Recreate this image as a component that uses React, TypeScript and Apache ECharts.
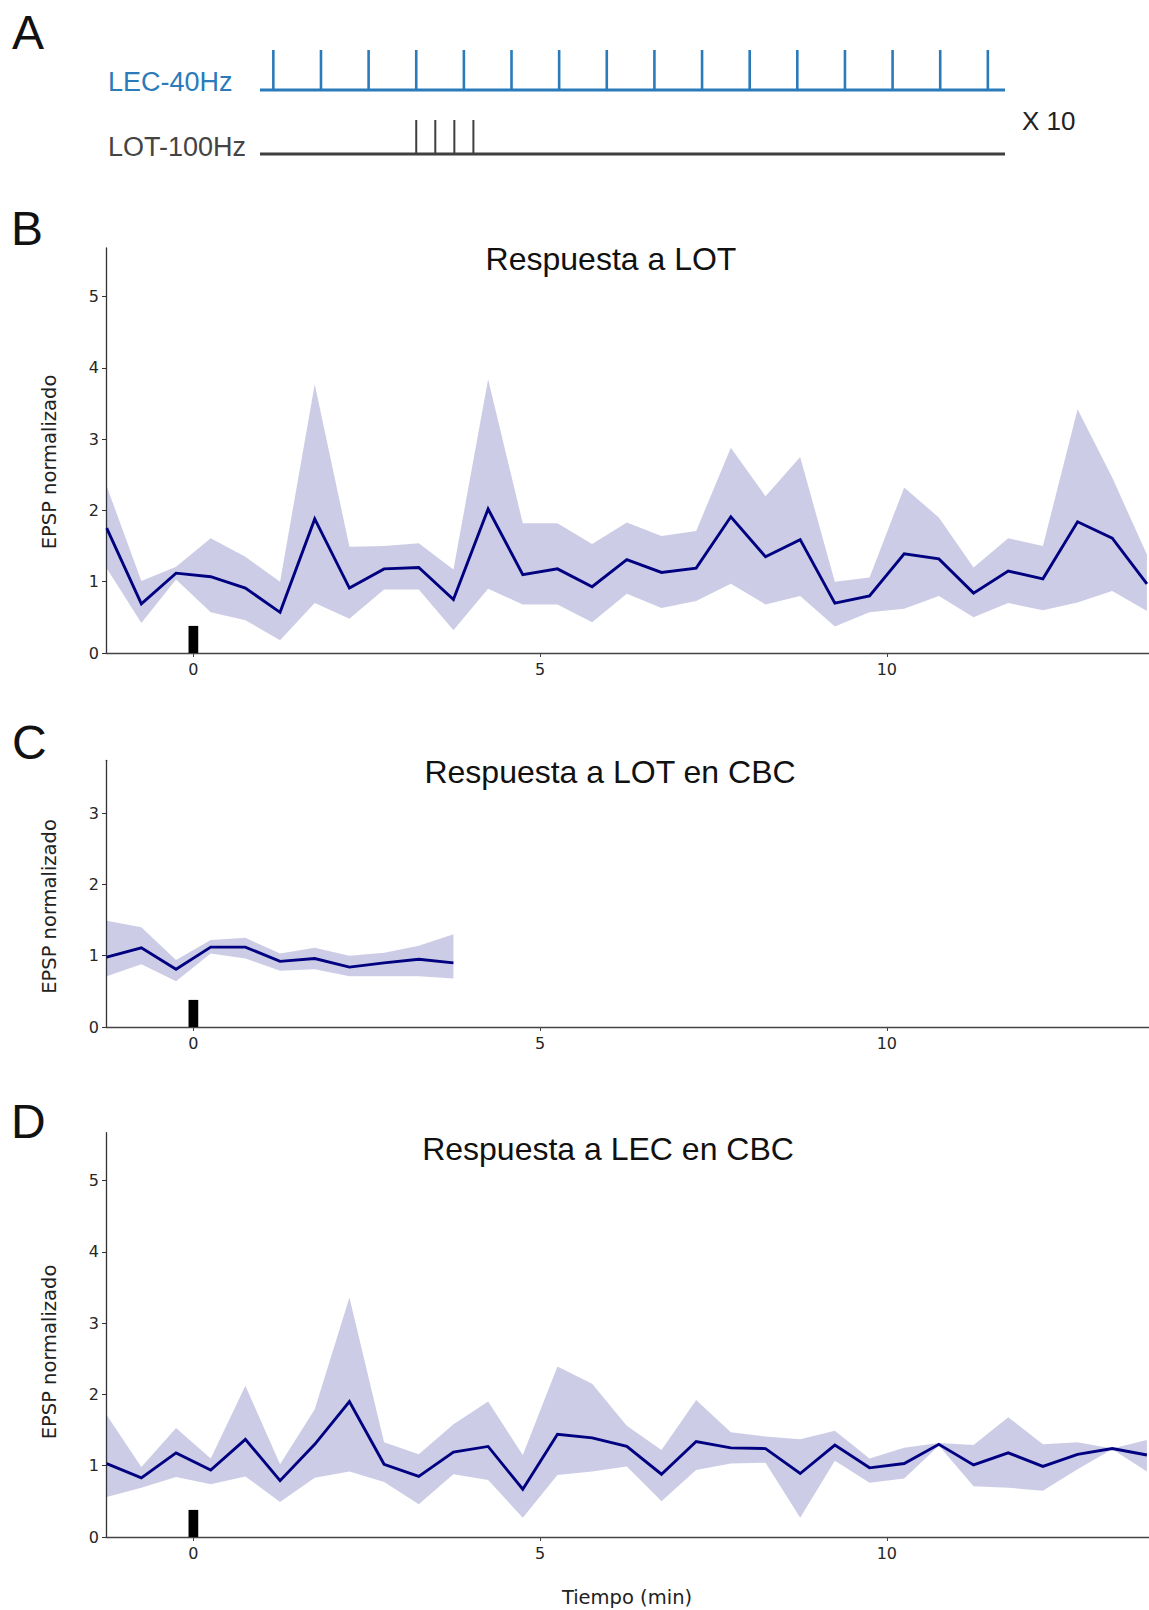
import React, { useEffect, useRef } from "react";
import * as echarts from "echarts";

const W = 1149;
const H = 1610;

// ---- Protocol (panel A), times in ms ----
const lecPulses = [0, 25, 50, 75, 100, 125, 150, 175, 200, 225, 250, 275, 300, 325, 350, 375];
const lotPulses = [75, 85, 95, 105];
const traceStart = -7;
const traceEnd = 384;

// ---- Time points (min) ----
const tiempo = [
  -1.25, -0.75, -0.25, 0.25, 0.75, 1.25, 1.75, 2.25, 2.75, 3.25, 3.75,
  4.25, 4.75, 5.25, 5.75, 6.25, 6.75, 7.25, 7.75, 8.25, 8.75,
  9.25, 9.75, 10.25, 10.75, 11.25, 11.75, 12.25, 12.75, 13.25, 13.75,
];
const tiempoCBC = [-1.25, -0.75, -0.25, 0.25, 0.75, 1.25, 1.75, 2.25, 2.75, 3.25, 3.75];

// ---- B: Respuesta a LOT ----
const lotMedia = [
  1.75, 0.69, 1.12, 1.07, 0.91, 0.57, 1.88, 0.91, 1.18, 1.2, 0.75,
  2.02, 1.1, 1.18, 0.93, 1.31, 1.13, 1.19, 1.91, 1.35, 1.59,
  0.7, 0.8, 1.39, 1.32, 0.84, 1.15, 1.04, 1.84, 1.61, 0.97,
];
const lotSup = [
  2.34, 1.01, 1.21, 1.61, 1.35, 1.0, 3.77, 1.49, 1.5, 1.54, 1.17,
  3.84, 1.82, 1.82, 1.53, 1.83, 1.64, 1.71, 2.88, 2.2, 2.75,
  1.0, 1.06, 2.32, 1.9, 1.2, 1.61, 1.5, 3.42, 2.46, 1.38,
];
const lotInf = [
  1.19, 0.42, 1.03, 0.57, 0.46, 0.18, 0.7, 0.48, 0.89, 0.89, 0.32,
  0.9, 0.68, 0.68, 0.43, 0.83, 0.63, 0.73, 0.97, 0.68, 0.8,
  0.37, 0.57, 0.62, 0.8, 0.5, 0.7, 0.6, 0.71, 0.87, 0.59,
];

// ---- C: Respuesta a LOT en CBC ----
const lotCbcMedia = [0.98, 1.11, 0.81, 1.12, 1.12, 0.92, 0.96, 0.84, 0.9, 0.95, 0.9];
const lotCbcSup = [1.49, 1.4, 0.94, 1.22, 1.25, 1.03, 1.11, 1.0, 1.04, 1.14, 1.3];
const lotCbcInf = [0.71, 0.88, 0.64, 1.03, 0.96, 0.79, 0.81, 0.71, 0.71, 0.71, 0.68];

// ---- D: Respuesta a LEC en CBC ----
const lecCbcMedia = [
  1.03, 0.83, 1.18, 0.94, 1.37, 0.79, 1.3, 1.9, 1.02, 0.85, 1.19,
  1.27, 0.67, 1.44, 1.39, 1.27, 0.88, 1.34, 1.25, 1.24, 0.89,
  1.29, 0.97, 1.03, 1.3, 1.01, 1.18, 0.99, 1.16, 1.24, 1.15,
];
const lecCbcSup = [
  1.71, 0.98, 1.53, 1.1, 2.12, 1.02, 1.79, 3.36, 1.33, 1.16, 1.58,
  1.9, 1.15, 2.39, 2.15, 1.56, 1.22, 1.92, 1.47, 1.41, 1.37,
  1.49, 1.1, 1.25, 1.32, 1.29, 1.68, 1.3, 1.33, 1.24, 1.36,
];
const lecCbcInf = [
  0.56, 0.69, 0.84, 0.74, 0.85, 0.49, 0.83, 0.92, 0.77, 0.46, 0.88,
  0.8, 0.27, 0.87, 0.92, 0.99, 0.5, 0.94, 1.03, 1.04, 0.27,
  1.07, 0.76, 0.82, 1.28, 0.71, 0.69, 0.65, 0.95, 1.23, 0.92,
];

// Tetanus marker at t = 0
const estimuloT = [0];
const estimuloAltura = 0.38;
const estimuloAncho = 0.14;

// Axis ticks
const xTicks = [0, 5, 10];
const yTicksAlto = [0, 1, 2, 3, 4, 5];
const yTicksBajo = [0, 1, 2, 3];

const NAVY = "#000080";
const BANDA = "rgba(0,0,128,0.2)";
const AZUL = "#2b7bba";
const GRIS = "#3f3f3f";

const panels = [
  { t: tiempo, media: lotMedia, sup: lotSup, inf: lotInf, top: 248, height: 405, yMax: 5.68, yTicks: yTicksAlto },
  { t: tiempoCBC, media: lotCbcMedia, sup: lotCbcSup, inf: lotCbcInf, top: 760.3, height: 266.7, yMax: 3.74, yTicks: yTicksBajo },
  { t: tiempo, media: lecCbcMedia, sup: lecCbcSup, inf: lecCbcInf, top: 1132.7, height: 404.3, yMax: 5.67, yTicks: yTicksAlto },
];

function buildOption() {
  const grid: any[] = [
    { left: 260, top: 50, width: 745, height: 40 },
    { left: 260, top: 120, width: 745, height: 34 },
  ];
  const xAxis: any[] = [
    { gridIndex: 0, type: "value", min: traceStart, max: traceEnd, show: false },
    { gridIndex: 1, type: "value", min: traceStart, max: traceEnd, show: false },
  ];
  const yAxis: any[] = [
    { gridIndex: 0, type: "value", min: 0, max: 1, show: false },
    { gridIndex: 1, type: "value", min: 0, max: 1, show: false },
  ];
  const series: any[] = [];

  const pulseSeries = (idx: number, pulses: number[], color: string, w: number) => ({
    type: "custom",
    xAxisIndex: idx,
    yAxisIndex: idx,
    clip: false,
    silent: true,
    data: pulses.map((p) => [p, 1]),
    renderItem: (_p: any, api: any) => {
      const a = api.coord([api.value(0), 0]);
      const b = api.coord([api.value(0), api.value(1)]);
      return {
        type: "line",
        shape: { x1: a[0], y1: a[1], x2: b[0], y2: b[1] },
        style: { stroke: color, lineWidth: w },
      };
    },
  });
  const baseline = (idx: number, color: string) => ({
    type: "line",
    xAxisIndex: idx,
    yAxisIndex: idx,
    clip: false,
    silent: true,
    symbol: "none",
    data: [
      [traceStart, 0],
      [traceEnd, 0],
    ],
    lineStyle: { color, width: 3 },
  });
  series.push(baseline(0, AZUL), pulseSeries(0, lecPulses, AZUL, 2.6));
  series.push(baseline(1, GRIS), pulseSeries(1, lotPulses, GRIS, 2));

  panels.forEach((p, i) => {
    const gi = i + 2;
    grid.push({ left: 106, top: p.top, width: W - 106, height: p.height });
    xAxis.push({
      gridIndex: gi,
      type: "value",
      min: -1.26,
      max: 13.78,
      splitLine: { show: false },
      axisLine: { show: true, onZero: false, lineStyle: { color: "#444", width: 1.3 } },
      axisTick: { show: true, length: 4, customValues: xTicks, lineStyle: { color: "#444", width: 1 } },
      axisLabel: {
        customValues: xTicks,
        margin: 8,
        color: "#262626",
        fontFamily: "DejaVu Sans",
        fontSize: 16,
      },
    });
    yAxis.push({
      gridIndex: gi,
      type: "value",
      min: 0,
      max: p.yMax,
      splitLine: { show: false },
      axisLine: { show: true, onZero: false, lineStyle: { color: "#333", width: 1.3 } },
      axisTick: { show: true, length: 4, customValues: p.yTicks, lineStyle: { color: "#333", width: 1 } },
      axisLabel: {
        customValues: p.yTicks,
        margin: 7,
        color: "#262626",
        fontFamily: "DejaVu Sans",
        fontSize: 16,
      },
    });

    // shaded band between lower and upper bounds
    series.push({
      type: "custom",
      xAxisIndex: gi,
      yAxisIndex: gi,
      silent: true,
      z: 1,
      data: p.t.map((t, k) => [t, p.inf[k], p.sup[k]]),
      encode: { x: 0, y: [1, 2] },
      renderItem: (params: any, api: any) => {
        if (params.dataIndex !== 0) return { type: "group", children: [] };
        const top = p.t.map((t, k) => api.coord([t, p.sup[k]]));
        const bottom = p.t.map((t, k) => api.coord([t, p.inf[k]])).reverse();
        return {
          type: "polygon",
          shape: { points: top.concat(bottom) },
          style: { fill: BANDA, stroke: null },
        };
      },
    });
    // mean trace
    series.push({
      type: "line",
      xAxisIndex: gi,
      yAxisIndex: gi,
      silent: true,
      z: 3,
      symbol: "none",
      data: p.t.map((t, k) => [t, p.media[k]]),
      lineStyle: { color: NAVY, width: 2.9, join: "miter" },
    });
    // stimulus marker
    series.push({
      type: "custom",
      xAxisIndex: gi,
      yAxisIndex: gi,
      silent: true,
      z: 4,
      data: estimuloT.map((t) => [t, estimuloAltura]),
      renderItem: (_params: any, api: any) => {
        const a = api.coord([api.value(0) - estimuloAncho / 2, api.value(1)]);
        const b = api.coord([api.value(0) + estimuloAncho / 2, 0]);
        return {
          type: "rect",
          shape: { x: a[0], y: a[1], width: b[0] - a[0], height: b[1] - a[1] },
          style: { fill: "#000" },
        };
      },
    });
  });

  const letra = (s: string, x: number, y: number) => ({
    type: "text",
    x,
    y,
    style: {
      text: s,
      fontFamily: "Liberation Sans",
      fontSize: 48,
      fill: "#111",
      textAlign: "left",
      textVerticalAlign: "middle",
    },
  });
  const titulo = (s: string, x: number, y: number) => ({
    type: "text",
    x,
    y,
    style: {
      text: s,
      fontFamily: "Liberation Sans",
      fontSize: 32,
      fill: "#111",
      textAlign: "center",
      textVerticalAlign: "middle",
    },
  });
  const ylabel = (y: number) => ({
    type: "text",
    x: 49.5,
    y,
    rotation: Math.PI / 2,
    style: {
      text: "EPSP normalizado",
      fontFamily: "DejaVu Sans",
      fontSize: 19.5,
      fill: "#222",
      textAlign: "center",
      textVerticalAlign: "middle",
    },
  });

  const graphic: any[] = [
    letra("A", 12, 32),
    letra("B", 11, 228),
    letra("C", 12, 742.5),
    letra("D", 11, 1121),
    {
      type: "text",
      x: 108,
      y: 82,
      style: { text: "LEC-40Hz", fontFamily: "Liberation Sans", fontSize: 27, fill: AZUL, textVerticalAlign: "middle" },
    },
    {
      type: "text",
      x: 108,
      y: 147,
      style: { text: "LOT-100Hz", fontFamily: "Liberation Sans", fontSize: 27, fill: "#444", textVerticalAlign: "middle" },
    },
    {
      type: "text",
      x: 1022,
      y: 121,
      style: { text: "X 10", fontFamily: "Liberation Sans", fontSize: 26, fill: "#222", textVerticalAlign: "middle" },
    },
    titulo("Respuesta a LOT", 611, 258.6),
    titulo("Respuesta a LOT en CBC", 610, 771.6),
    titulo("Respuesta a LEC en CBC", 608, 1148.6),
    ylabel(462),
    ylabel(906.5),
    ylabel(1352),
    {
      type: "text",
      x: 627,
      y: 1597,
      style: {
        text: "Tiempo (min)",
        fontFamily: "DejaVu Sans",
        fontSize: 19.5,
        fill: "#222",
        textAlign: "center",
        textVerticalAlign: "middle",
      },
    },
  ];

  return {
    animation: false,
    backgroundColor: "#fff",
    grid,
    xAxis,
    yAxis,
    series,
    graphic,
  };
}

export default function App() {
  const ref = useRef<HTMLDivElement>(null);
  useEffect(() => {
    if (!ref.current) return;
    const chart = echarts.init(ref.current, undefined, { renderer: "svg" });
    chart.setOption(buildOption() as any);
    return () => chart.dispose();
  }, []);
  return (
    <div
      ref={ref}
      style={{ position: "absolute", left: 0, top: 0, width: W, height: H, background: "#fff" }}
    />
  );
}
